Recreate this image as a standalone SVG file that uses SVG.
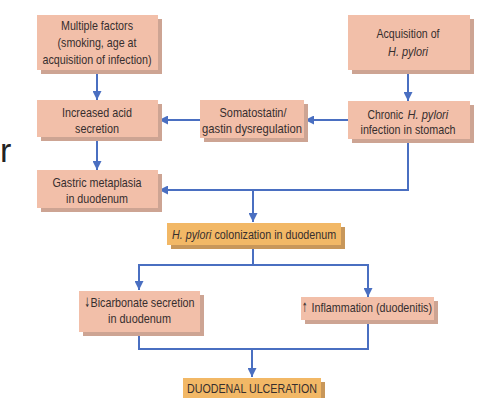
<svg xmlns="http://www.w3.org/2000/svg" width="485" height="398" viewBox="0 0 485 398">
<defs>
<style>
.bx{fill:#f2bfa9}
.sh{fill:#cda493}
.ob{fill:#f2b866}
.os{fill:#c8975a}
.t{font-family:"Liberation Sans",Arial,sans-serif;font-size:13.5px;fill:#362e2e;text-anchor:middle}
.s{text-anchor:start}
.i{font-style:italic}
.ar{font-family:"DejaVu Sans",sans-serif;font-size:13px;fill:#362e2e}
.c{fill:none;stroke:#4a6fc1;stroke-width:2}
</style>
<marker id="ah" viewBox="0 0 10 10" refX="10" refY="5" markerWidth="4.5" markerHeight="4.5" orient="auto" markerUnits="strokeWidth">
<path d="M0,0 L10,5 L0,10 z" fill="#4a6fc1"/>
</marker>
</defs>
<rect width="485" height="398" fill="#ffffff"/>
<text x="0" y="162" style="font-family:'Liberation Sans',sans-serif;font-size:34px;fill:#222">r</text>

<g id="connectors">
<path class="c" d="M97,71 V100" marker-end="url(#ah)"/>
<path class="c" d="M97,138 V170" marker-end="url(#ah)"/>
<path class="c" d="M408,71 V101" marker-end="url(#ah)"/>
<path class="c" d="M348,120 H305" marker-end="url(#ah)"/>
<path class="c" d="M200,120 H159" marker-end="url(#ah)"/>
<path class="c" d="M408,141 V190 H159" marker-end="url(#ah)"/>
<path class="c" d="M253,190 V222" marker-end="url(#ah)"/>
<path class="c" d="M253,245 V265"/>
<path class="c" d="M139,265 H368"/>
<path class="c" d="M139,264 V290" marker-end="url(#ah)"/>
<path class="c" d="M368,264 V297" marker-end="url(#ah)"/>
<path class="c" d="M139,332 V349 H368 V320"/>
<path class="c" d="M252,349 V377" marker-end="url(#ah)"/>
</g>

<g id="multiple-factors">
<rect class="sh" x="41" y="19" width="121" height="55"/>
<rect class="bx" x="37" y="15" width="121" height="55"/>
<text class="t" x="97" y="30" textLength="72" lengthAdjust="spacingAndGlyphs">Multiple factors</text>
<text class="t" x="97" y="47" textLength="79" lengthAdjust="spacingAndGlyphs">(smoking, age at</text>
<text class="t" x="97" y="64" textLength="109" lengthAdjust="spacingAndGlyphs">acquisition of infection)</text>
</g>

<g id="increased-acid">
<rect class="sh" x="41" y="104" width="121" height="37"/>
<rect class="bx" x="37" y="100" width="121" height="37"/>
<text class="t" x="97" y="117" textLength="70" lengthAdjust="spacingAndGlyphs">Increased acid</text>
<text class="t" x="97" y="132.5" textLength="44" lengthAdjust="spacingAndGlyphs">secretion</text>
</g>

<g id="gastric-metaplasia">
<rect class="sh" x="41" y="174" width="121" height="38"/>
<rect class="bx" x="37" y="170" width="121" height="38"/>
<text class="t" x="97" y="187" textLength="89" lengthAdjust="spacingAndGlyphs">Gastric metaplasia</text>
<text class="t" x="97" y="203" textLength="62" lengthAdjust="spacingAndGlyphs">in duodenum</text>
</g>

<g id="somatostatin">
<rect class="sh" x="204" y="104" width="104" height="38"/>
<rect class="bx" x="200" y="100" width="104" height="38"/>
<text class="t" x="253" y="117" textLength="67" lengthAdjust="spacingAndGlyphs">Somatostatin/</text>
<text class="t" x="252" y="132.5" textLength="100" lengthAdjust="spacingAndGlyphs">gastin dysregulation</text>
</g>

<g id="acquisition">
<rect class="sh" x="352" y="19" width="122" height="55"/>
<rect class="bx" x="348" y="15" width="122" height="55"/>
<text class="t" x="408" y="38" textLength="63" lengthAdjust="spacingAndGlyphs">Acquisition of</text>
<text class="t i" x="408" y="56" textLength="40" lengthAdjust="spacingAndGlyphs">H. pylori</text>
</g>

<g id="chronic">
<rect class="sh" x="352" y="105" width="122" height="38"/>
<rect class="bx" x="348" y="101" width="122" height="38"/>
<text class="t s" transform="translate(367.5,118.5) scale(0.77,1)">Chronic</text>
<text class="t s i" transform="translate(407.5,118.5) scale(0.823,1)">H. pylori</text>
<text class="t" x="408" y="134" textLength="95" lengthAdjust="spacingAndGlyphs">infection in stomach</text>
</g>

<g id="colonization">
<rect class="os" x="171" y="227" width="174" height="22"/>
<rect class="ob" x="167" y="223" width="174" height="22"/>
<text class="t s i" transform="translate(172,238.5) scale(0.795,1)">H. pylori</text>
<text class="t s" transform="translate(214.5,238.5) scale(0.795,1)">colonization in duodenum</text>
</g>

<g id="bicarbonate">
<rect class="sh" x="83" y="295" width="121" height="41"/>
<rect class="bx" x="79" y="291" width="121" height="41"/>
<text class="ar" transform="translate(84.5,306.5) scale(0.5,1)">↓</text>
<text class="t s" x="90.5" y="306.5" textLength="104" lengthAdjust="spacingAndGlyphs">Bicarbonate secretion</text>
<text class="t" x="139.5" y="322.5" textLength="63" lengthAdjust="spacingAndGlyphs">in duodenum</text>
</g>

<g id="inflammation">
<rect class="sh" x="305" y="301" width="133" height="23"/>
<rect class="bx" x="301" y="297" width="133" height="23"/>
<text class="ar" transform="translate(302,312) scale(0.5,1)">↑</text>
<text class="t s" x="311.5" y="312" textLength="120.5" lengthAdjust="spacingAndGlyphs">Inflammation (duodenitis)</text>
</g>

<g id="ulceration">
<rect class="os" x="187" y="382" width="138" height="20"/>
<rect class="ob" x="183" y="378" width="138" height="22"/>
<text class="t" x="252" y="393" textLength="130" lengthAdjust="spacingAndGlyphs">DUODENAL ULCERATION</text>
</g>
</svg>
